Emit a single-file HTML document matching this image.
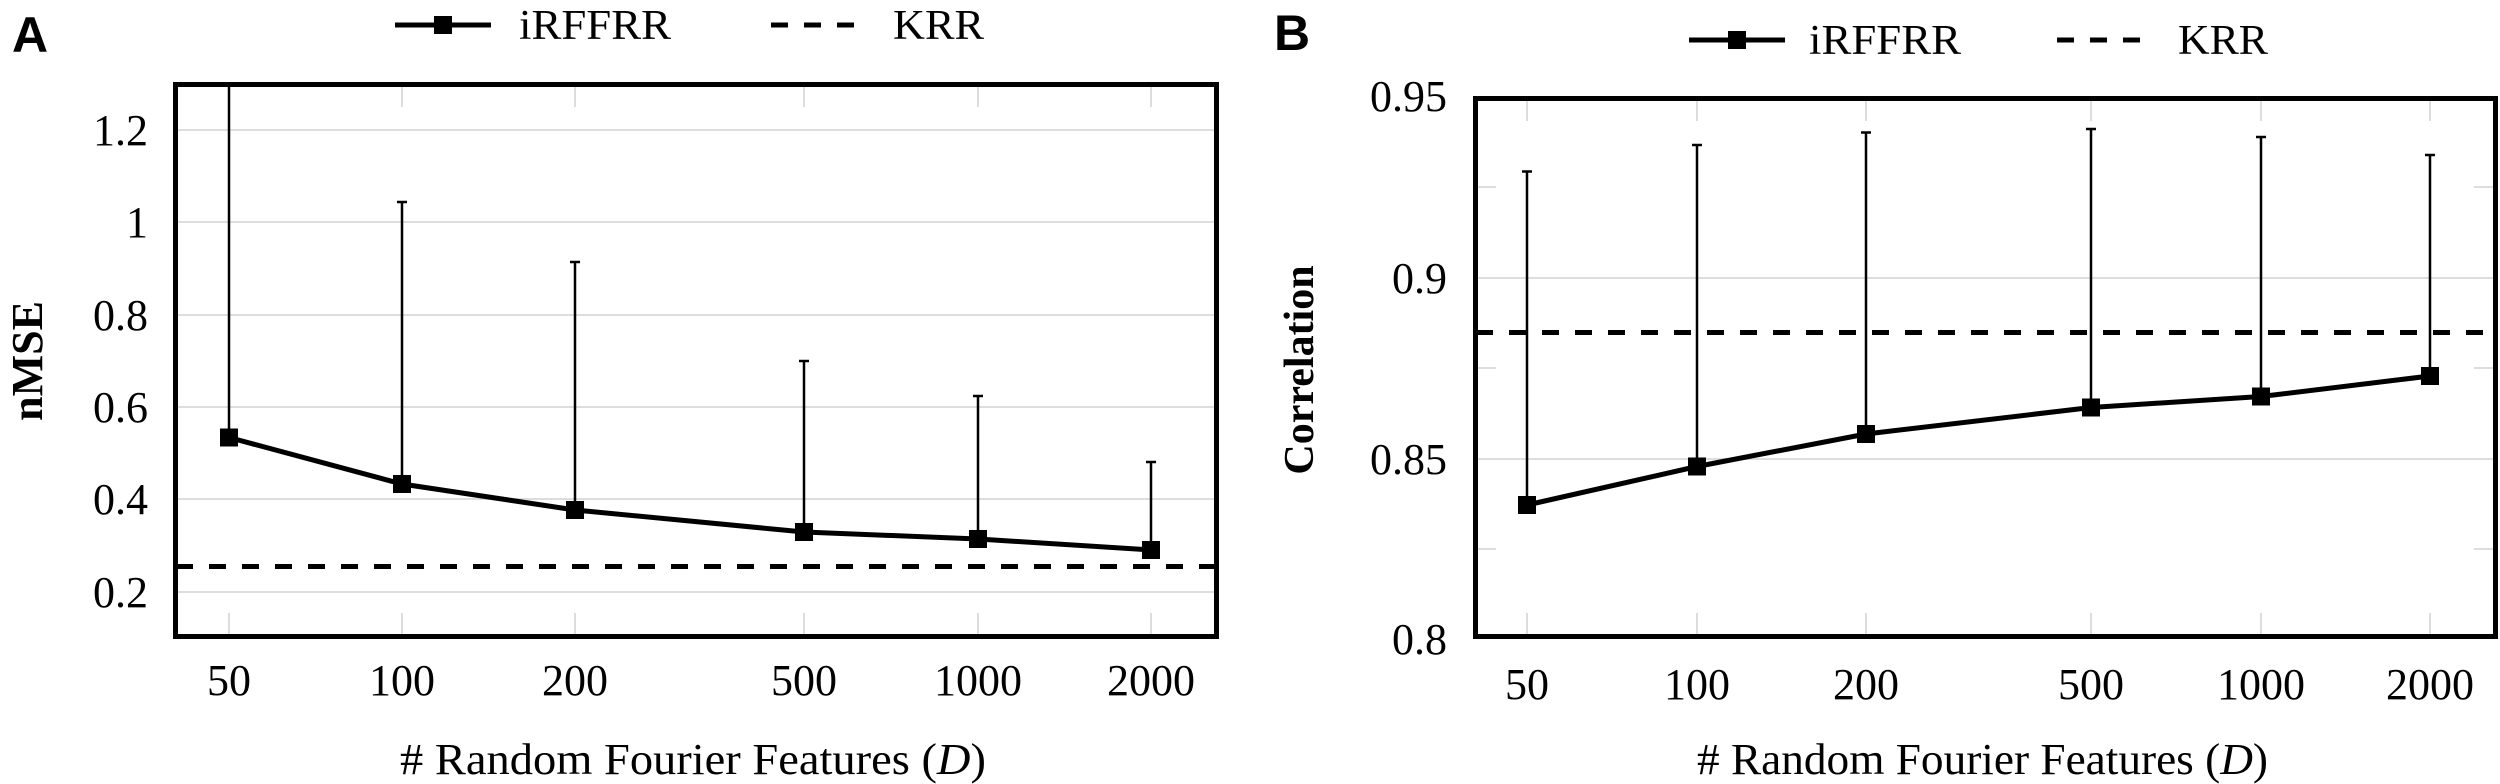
<!DOCTYPE html>
<html><head><meta charset="utf-8"><style>
html,body{margin:0;padding:0;background:#fff;}
svg{display:block;}
text{font-family:"Liberation Serif",serif;fill:#000;}
</style></head><body>
<svg width="2500" height="784" viewBox="0 0 2500 784" xmlns="http://www.w3.org/2000/svg">
<!-- Panel A -->
<text x="12" y="52" style="font-family:'Liberation Sans',sans-serif;font-weight:bold;font-size:50px">A</text>
<g stroke="#000" stroke-width="5" fill="none">
<line x1="395" y1="25" x2="491" y2="25"/>
<line x1="771" y1="25" x2="856" y2="25" stroke-dasharray="17,16"/>
</g>
<rect x="434" y="16" width="18" height="18" fill="#000"/>
<text x="519" y="39" font-size="42" textLength="152" lengthAdjust="spacingAndGlyphs">iRFFRR</text>
<text x="893" y="39" font-size="42" textLength="91" lengthAdjust="spacingAndGlyphs">KRR</text>
<g stroke="#dddddd" stroke-width="2">
<line x1="176" y1="130" x2="1216" y2="130"/>
<line x1="176" y1="222" x2="1216" y2="222"/>
<line x1="176" y1="315" x2="1216" y2="315"/>
<line x1="176" y1="407" x2="1216" y2="407"/>
<line x1="176" y1="499" x2="1216" y2="499"/>
<line x1="176" y1="592" x2="1216" y2="592"/>
<line x1="229" y1="85" x2="229" y2="107"/><line x1="229" y1="613" x2="229" y2="636"/>
<line x1="402" y1="85" x2="402" y2="107"/><line x1="402" y1="613" x2="402" y2="636"/>
<line x1="575" y1="85" x2="575" y2="107"/><line x1="575" y1="613" x2="575" y2="636"/>
<line x1="804" y1="85" x2="804" y2="107"/><line x1="804" y1="613" x2="804" y2="636"/>
<line x1="978" y1="85" x2="978" y2="107"/><line x1="978" y1="613" x2="978" y2="636"/>
<line x1="1151" y1="85" x2="1151" y2="107"/><line x1="1151" y1="613" x2="1151" y2="636"/>
</g>
<g font-size="44" text-anchor="end">
<text x="148" y="145">1.2</text>
<text x="148" y="237">1</text>
<text x="148" y="330">0.8</text>
<text x="148" y="422">0.6</text>
<text x="148" y="514">0.4</text>
<text x="148" y="607">0.2</text>
</g>
<g font-size="44" text-anchor="middle">
<text x="229" y="695">50</text>
<text x="402" y="695">100</text>
<text x="575" y="695">200</text>
<text x="804" y="695">500</text>
<text x="978" y="695">1000</text>
<text x="1151" y="695">2000</text>
</g>
<text transform="translate(42,361) rotate(-90)" font-size="44" font-weight="bold" text-anchor="middle">nMSE</text>
<text x="400" y="774" font-size="44" textLength="586" lengthAdjust="spacingAndGlyphs"># Random Fourier Features (<tspan font-style="italic">D</tspan>)</text>
<g stroke="#000" stroke-width="2.5">
<line x1="229" y1="84" x2="229" y2="437"/>
<line x1="402" y1="202" x2="402" y2="484"/><line x1="397" y1="202" x2="407" y2="202"/>
<line x1="575" y1="262" x2="575" y2="510"/><line x1="570" y1="262" x2="580" y2="262"/>
<line x1="804" y1="361" x2="804" y2="532"/><line x1="799" y1="361" x2="809" y2="361"/>
<line x1="978" y1="396" x2="978" y2="539"/><line x1="973" y1="396" x2="983" y2="396"/>
<line x1="1151" y1="462" x2="1151" y2="550"/><line x1="1146" y1="462" x2="1156" y2="462"/>
</g>
<line x1="176" y1="566.5" x2="1216" y2="566.5" stroke="#000" stroke-width="5" stroke-dasharray="17,16"/>
<polyline points="229,437.5 402,484 575,510 804,532 978,539 1151,550" fill="none" stroke="#000" stroke-width="5"/>
<g fill="#000">
<rect x="220" y="428.5" width="18" height="18"/>
<rect x="393" y="475" width="18" height="18"/>
<rect x="566" y="501" width="18" height="18"/>
<rect x="795" y="523" width="18" height="18"/>
<rect x="969" y="530" width="18" height="18"/>
<rect x="1142" y="541" width="18" height="18"/>
</g>
<rect x="175.5" y="84.5" width="1041" height="552" fill="none" stroke="#000" stroke-width="5"/>

<!-- Panel B -->
<text x="1274" y="50" style="font-family:'Liberation Sans',sans-serif;font-weight:bold;font-size:50px">B</text>
<g stroke="#000" stroke-width="5" fill="none">
<line x1="1689" y1="40" x2="1785" y2="40"/>
<line x1="2057" y1="40" x2="2142" y2="40" stroke-dasharray="17,16"/>
</g>
<rect x="1728" y="31" width="18" height="18" fill="#000"/>
<text x="1809" y="54" font-size="42" textLength="152" lengthAdjust="spacingAndGlyphs">iRFFRR</text>
<text x="2178" y="54" font-size="42" textLength="90" lengthAdjust="spacingAndGlyphs">KRR</text>
<g stroke="#dddddd" stroke-width="2">
<line x1="1476" y1="278" x2="2494" y2="278"/>
<line x1="1476" y1="459" x2="2494" y2="459"/>
<line x1="2474" y1="187" x2="2494" y2="187"/><line x1="1476" y1="187" x2="1496" y2="187"/>
<line x1="2474" y1="368" x2="2494" y2="368"/><line x1="1476" y1="368" x2="1496" y2="368"/>
<line x1="2474" y1="549" x2="2494" y2="549"/><line x1="1476" y1="549" x2="1496" y2="549"/>
<line x1="1527" y1="99" x2="1527" y2="121"/><line x1="1527" y1="613" x2="1527" y2="636"/>
<line x1="1697" y1="99" x2="1697" y2="121"/><line x1="1697" y1="613" x2="1697" y2="636"/>
<line x1="1866" y1="99" x2="1866" y2="121"/><line x1="1866" y1="613" x2="1866" y2="636"/>
<line x1="2091" y1="99" x2="2091" y2="121"/><line x1="2091" y1="613" x2="2091" y2="636"/>
<line x1="2261" y1="99" x2="2261" y2="121"/><line x1="2261" y1="613" x2="2261" y2="636"/>
<line x1="2430" y1="99" x2="2430" y2="121"/><line x1="2430" y1="613" x2="2430" y2="636"/>
</g>
<g font-size="44" text-anchor="end">
<text x="1447" y="111">0.95</text>
<text x="1447" y="293">0.9</text>
<text x="1447" y="474">0.85</text>
<text x="1447" y="654">0.8</text>
</g>
<g font-size="44" text-anchor="middle">
<text x="1527" y="699">50</text>
<text x="1697" y="699">100</text>
<text x="1866" y="699">200</text>
<text x="2091" y="699">500</text>
<text x="2261" y="699">1000</text>
<text x="2430" y="699">2000</text>
</g>
<text transform="translate(1313,370) rotate(-90)" font-size="42" font-weight="bold" text-anchor="middle">Correlation</text>
<text x="1697" y="774" font-size="44" textLength="571" lengthAdjust="spacingAndGlyphs"># Random Fourier Features (<tspan font-style="italic">D</tspan>)</text>
<g stroke="#000" stroke-width="2.5">
<line x1="1527" y1="171.5" x2="1527" y2="505"/><line x1="1522" y1="171.5" x2="1532" y2="171.5"/>
<line x1="1697" y1="145" x2="1697" y2="466"/><line x1="1692" y1="145" x2="1702" y2="145"/>
<line x1="1866" y1="132.5" x2="1866" y2="434"/><line x1="1861" y1="132.5" x2="1871" y2="132.5"/>
<line x1="2091" y1="129" x2="2091" y2="407"/><line x1="2086" y1="129" x2="2096" y2="129"/>
<line x1="2261" y1="137" x2="2261" y2="396"/><line x1="2256" y1="137" x2="2266" y2="137"/>
<line x1="2430" y1="155" x2="2430" y2="376"/><line x1="2425" y1="155" x2="2435" y2="155"/>
</g>
<line x1="1476" y1="332.5" x2="2494" y2="332.5" stroke="#000" stroke-width="5" stroke-dasharray="17,16"/>
<polyline points="1527,505 1697,466.5 1866,434 2091,407.5 2261,396.5 2430,376" fill="none" stroke="#000" stroke-width="5"/>
<g fill="#000">
<rect x="1518" y="496" width="18" height="18"/>
<rect x="1688" y="457.5" width="18" height="18"/>
<rect x="1857" y="425" width="18" height="18"/>
<rect x="2082" y="398.5" width="18" height="18"/>
<rect x="2252" y="387.5" width="18" height="18"/>
<rect x="2421" y="367" width="18" height="18"/>
</g>
<rect x="1475.5" y="98.5" width="1020" height="538" fill="none" stroke="#000" stroke-width="5"/>
</svg>
</body></html>
